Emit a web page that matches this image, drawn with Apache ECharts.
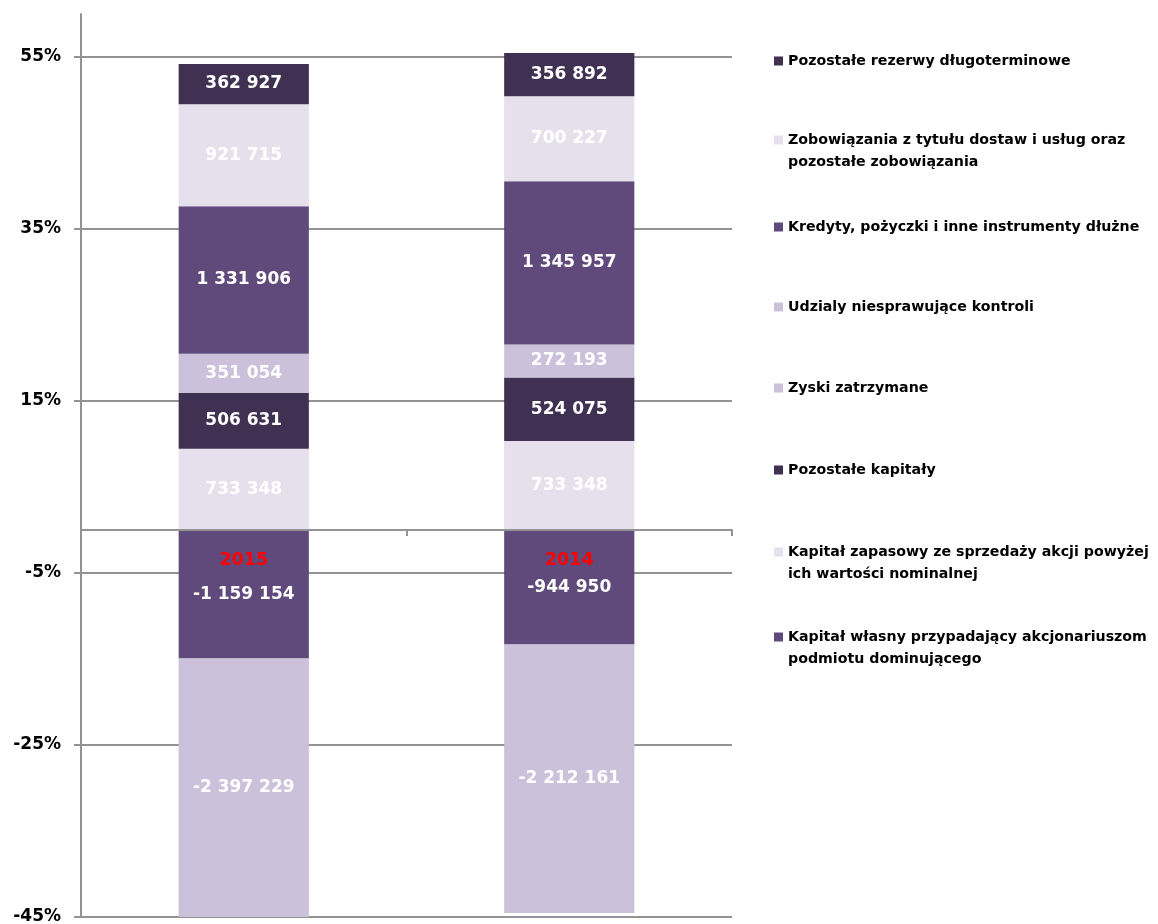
<!DOCTYPE html>
<html>
<head>
<meta charset="utf-8">
<script src="https://cdn.jsdelivr.net/npm/echarts@6/dist/echarts.min.js"></script>
<style>
  html, body { margin: 0; padding: 0; background: #fff; }
  #chart { width: 1158px; height: 924px; }
</style>
</head>
<body>
<div id="chart"></div>
<script>
// Years on the category axis
const years = ['2015', '2014'];

// Balance items (thousands), listed in stacking order, values for [2015, 2014]
const kapitalWlasny   = [-1159154, -944950];
const kapitalZapasowy = [733348, 733348];
const pozostaleKap    = [506631, 524075];
const zyskiZatrzymane = [-2397229, -2212161];
const udzialy         = [351054, 272193];
const kredyty         = [1331906, 1345957];
const zobowiazania    = [921715, 700227];
const rezerwy         = [362927, 356892];

// Percent tick labels on the value axis
const percentTicks = [-45, -25, -5, 15, 35, 55];

const seriesNames = [
  'Kapitał własny przypadający akcjonariuszom podmiotu dominującego',
  'Kapitał zapasowy ze sprzedaży akcji powyżej ich wartości nominalnej',
  'Pozostałe kapitały',
  'Zyski zatrzymane',
  'Udzialy niesprawujące kontroli',
  'Kredyty, pożyczki i inne instrumenty dłużne',
  'Zobowiązania z tytułu dostaw i usług oraz pozostałe zobowiązania',
  'Pozostałe rezerwy długoterminowe'
];
const seriesValues = [kapitalWlasny, kapitalZapasowy, pozostaleKap, zyskiZatrzymane,
                      udzialy, kredyty, zobowiazania, rezerwy];
const seriesColors = ['#604A7B', '#E5E0EC', '#403152', '#CCC1DA',
                      '#CCC1DA', '#604A7B', '#E5E0EC', '#403152'];

// Legend text with line breaks (leading blank line keeps the marker on the first line)
const legendText = {
  'Zobowiązania z tytułu dostaw i usług oraz pozostałe zobowiązania':
    '\nZobowiązania z tytułu dostaw i usług oraz\npozostałe zobowiązania',
  'Kapitał zapasowy ze sprzedaży akcji powyżej ich wartości nominalnej':
    '\nKapitał zapasowy ze sprzedaży akcji powyżej\nich wartości nominalnej',
  'Kapitał własny przypadający akcjonariuszom podmiotu dominującego':
    '\nKapitał własny przypadający akcjonariuszom\npodmiotu dominującego'
};
// Legend order from top to bottom and the marker centre of each entry
const legendOrder = seriesNames.slice().reverse();
const legendCentres = [61, 140, 227, 307, 388, 470, 552, 637];

const FONT = 'DejaVu Sans';
const GRID_COLOR = '#939393';
const CHART_H = 924;
const GRID_BOTTOM = 7;

// Each year's bar is expressed as a share of the sum of absolute values
const totals = years.map((_, j) =>
  seriesValues.reduce((s, arr) => s + Math.abs(arr[j]), 0));

function fmt(v) {
  const s = String(Math.abs(v)).replace(/\B(?=(\d{3})+(?!\d))/g, ' ');
  return (v < 0 ? '-' : '') + s;
}

const series = seriesNames.map((name, i) => ({
  name: name,
  type: 'bar',
  stack: 'total',
  xAxisIndex: 0,
  yAxisIndex: 0,
  barWidth: '40%',
  itemStyle: { color: seriesColors[i] },
  label: {
    show: true,
    position: 'inside',
    color: '#fff',
    fontFamily: FONT,
    fontWeight: 'bold',
    fontSize: 17,
    formatter: p => fmt(seriesValues[i][p.dataIndex])
  },
  data: seriesValues[i].map((v, j) => v / totals[j] * 100)
}));

const legends = legendOrder.map((name, k) => {
  const twoLine = !!legendText[name];
  return {
    data: [name],
    orient: 'vertical',
    left: 774,
    top: legendCentres[k] - (twoLine ? 33 : 11),
    padding: 0,
    itemWidth: 9,
    itemHeight: 9,
    itemGap: 0,
    icon: 'rect',
    selectedMode: false,
    formatter: n => legendText[n] || n,
    textStyle: {
      fontFamily: FONT,
      fontWeight: 'bold',
      fontSize: 14.2,
      lineHeight: 22,
      color: '#000'
    }
  };
});

const chart = echarts.init(document.getElementById('chart'), null, { renderer: 'canvas' });
chart.setOption({
  animation: false,
  backgroundColor: '#fff',
  grid: [
    { left: 81, right: 426, top: 14, bottom: GRID_BOTTOM, containLabel: false, outerBoundsMode: 'none' },
    { left: 81, right: 426, top: 57, bottom: GRID_BOTTOM, containLabel: false, outerBoundsMode: 'none' }
  ],
  legend: legends,
  xAxis: [
    {
      type: 'category',
      gridIndex: 0,
      position: 'bottom',
      data: years,
      z: 10,
      axisLine: { onZero: false, lineStyle: { color: GRID_COLOR, width: 2 } },
      axisTick: { show: true, length: 6, lineStyle: { color: GRID_COLOR, width: 2 } },
      axisLabel: {
        color: '#ff0000',
        fontFamily: FONT,
        fontWeight: 'bold',
        fontSize: 17.5,
        margin: 21
      }
    },
    { type: 'category', gridIndex: 1, data: years, show: false }
  ],
  yAxis: [
    {
      type: 'value',
      gridIndex: 0,
      min: -45,
      max: 60,
      axisLine: { show: true, lineStyle: { color: GRID_COLOR, width: 2 } },
      axisTick: { show: false },
      axisLabel: { show: false },
      splitLine: { show: false }
    },
    {
      type: 'value',
      gridIndex: 1,
      min: percentTicks[0],
      max: percentTicks[percentTicks.length - 1],
      interval: 20,
      axisLine: { show: false },
      axisTick: { show: true, length: 7, lineStyle: { color: GRID_COLOR, width: 2 } },
      axisLabel: {
        color: '#000',
        fontFamily: FONT,
        fontWeight: 'bold',
        fontSize: 17,
        margin: 20,
        formatter: v => v + '%'
      },
      splitLine: { show: true, lineStyle: { color: GRID_COLOR, width: 2 } }
    }
  ],
  series: series
});

// Lift the category axis (line, ticks and year labels) up to the 0% level
const zeroY = chart.convertToPixel({ yAxisIndex: 0 }, 0);
chart.setOption({
  xAxis: [{ offset: -((CHART_H - GRID_BOTTOM) - zeroY) }, {}]
});
</script>
</body>
</html>
